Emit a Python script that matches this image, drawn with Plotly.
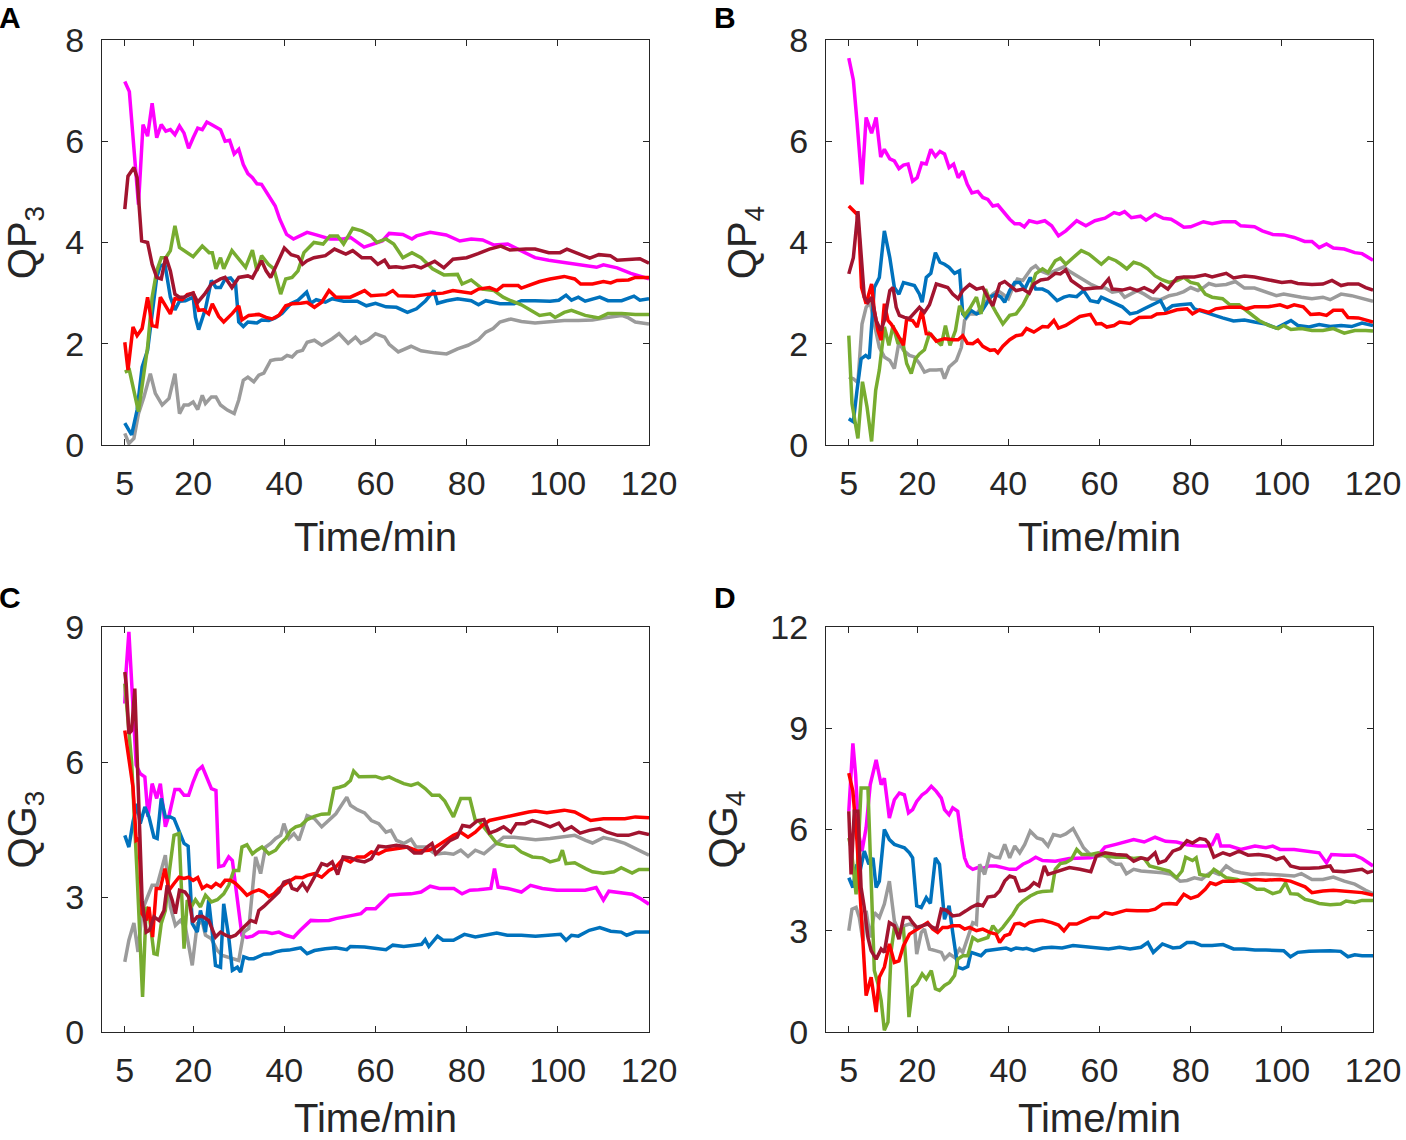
import plotly.graph_objects as go

# ---------------- data (time in min, value) ----------------
A_magenta = [(5,7.18),(6,6.98),(8,4.75),(9,6.33),(10,6.1),(11,6.75),(12,6.07),(13,6.33),(14,6.2),(15,6.23),(16,6.13),(17,6.3),(18,6.16),(19,5.86),(20,6.07),(21,6.26),(22,6.23),(23,6.38),(24,6.33),(26,6.23),(27,6.0),(28,6.02),(29,5.75),(30,5.84),(31,5.54),(32,5.36),(33,5.28),(34,5.16),(35,5.15),(36.5,4.95),(38,4.72),(39,4.46),(40.5,4.16),(42,4.07),(45,4.2),(47,4.15),(50,4.07),(53,4.07),(54.5,4.1),(57.5,3.91),(61.5,4.03),(63,4.18),(66,4.16),(68,4.07),(69,4.13),(72,4.2),(75.5,4.15),(78.5,4.03),(81,4.07),(83.5,4.05),(86,3.95),(89,3.97),(92,3.84),(95,3.7),(98,3.65),(101.5,3.6),(104.5,3.57),(108.5,3.51),(110,3.56),(113,3.5),(116,3.39),(120,3.28)]
A_maroon = [(5,4.66),(5.7,5.31),(7,5.48),(7.7,5.28),(8.7,4.03),(10,4.0),(11,3.57),(12,3.31),(13,3.28),(14,3.72),(15,3.44),(16,2.98),(17,2.92),(18,2.92),(20,3.0),(21,2.82),(22.5,2.98),(24,3.18),(26,3.28),(27,3.31),(28.5,3.11),(30,3.31),(32,3.34),(33,3.3),(35,3.64),(36,3.44),(37,3.31),(39,3.7),(40,3.89),(41.5,3.76),(43,3.72),(44,3.57),(45,3.64),(46.5,3.7),(49,3.74),(51,3.87),(53.5,3.77),(55,3.84),(57,3.7),(59,3.7),(60.5,3.57),(62,3.65),(63,3.51),(64.5,3.52),(66,3.5),(68.5,3.54),(70,3.5),(73,3.63),(75,3.5),(77,3.67),(80,3.7),(82.5,3.78),(85,3.87),(87.5,3.93),(89.5,3.85),(93,3.87),(95,3.87),(98,3.8),(100.5,3.8),(102,3.87),(104,3.8),(107,3.69),(109,3.76),(111.5,3.74),(113,3.65),(116,3.67),(118,3.68),(120,3.59)]
A_green = [(5,1.44),(6,1.48),(8,0.66),(10,1.93),(11,2.92),(12,3.44),(13,3.7),(14,3.7),(15,3.84),(16,4.33),(17,3.9),(18,3.84),(19,3.8),(20,3.72),(22,3.93),(23.5,3.8),(24.2,3.8),(25,3.48),(26,3.7),(26.7,3.48),(28.5,3.84),(30,3.67),(31.5,3.51),(33,3.85),(34,3.44),(35,3.74),(36.5,3.57),(37.7,3.48),(39.2,2.98),(40.3,3.28),(41.7,3.31),(43,3.44),(44.3,3.8),(46.5,4.0),(48.5,3.97),(50,4.13),(51.7,4.13),(53,3.97),(55,4.28),(57,4.23),(59,4.13),(60.3,4.0),(62.3,4.07),(64,3.97),(66,3.7),(68,3.8),(70,3.7),(72.5,3.48),(75,3.36),(78,3.37),(79,3.18),(81,3.26),(83.5,3.08),(86,3.05),(88,2.92),(89.7,2.85),(92,2.77),(96,2.56),(98.3,2.59),(99.4,2.52),(101.4,2.62),(103,2.66),(106,2.56),(109,2.51),(111,2.6),(114,2.6),(117,2.58),(120,2.58)]
A_blue = [(5,0.43),(6.5,0.2),(7.7,0.69),(8.8,1.54),(10,1.87),(11,2.59),(12,3.31),(12.8,3.54),(13.8,3.57),(15,2.92),(16,2.67),(17,2.84),(18.3,2.85),(20,2.92),(20.5,2.52),(21.2,2.28),(22.7,2.69),(24,3.25),(25,3.11),(26,3.11),(27,3.28),(28.2,3.3),(29.3,3.18),(30,2.43),(31,2.34),(32,2.43),(34,2.41),(35,2.47),(36.6,2.46),(38,2.51),(39.5,2.6),(41.4,2.79),(43,2.86),(44.9,3.02),(45.8,2.8),(47,2.87),(49,2.82),(50.5,2.89),(53,2.84),(56,2.84),(58,2.75),(60,2.8),(62.3,2.73),(64.6,2.72),(67,2.62),(69,2.69),(71,2.85),(72.8,3.05),(73.6,2.8),(75.6,2.85),(78,2.89),(81,2.85),(82.6,2.77),(84.2,2.85),(87.3,2.79),(90.4,2.79),(92,2.85),(95,2.85),(98.3,2.84),(100.2,2.86),(101.8,2.96),(103,2.86),(104.5,2.92),(106,2.84),(109.2,2.92),(111,2.85),(114,2.85),(116.7,2.94),(118,2.86),(120,2.89)]
A_red = [(5,2.03),(5.7,1.48),(6.8,2.33),(7.7,2.16),(8.8,2.3),(10,2.92),(11,2.36),(12,2.34),(12.8,2.92),(14,2.75),(15,2.59),(16,2.89),(17.6,2.87),(18.7,2.97),(20,3.0),(21.2,2.66),(22.3,2.67),(23.4,2.59),(24.2,2.79),(25.6,2.54),(26.7,2.43),(28.6,2.6),(30,2.75),(30.7,2.47),(32.2,2.56),(34.4,2.58),(36,2.52),(37.3,2.49),(38.8,2.56),(40.3,2.75),(41.7,2.79),(43.6,2.8),(45,2.82),(46.6,2.72),(48.2,2.82),(49.8,3.05),(51.3,2.92),(54.5,2.92),(57.6,3.05),(59,2.95),(62.3,2.97),(63.8,3.05),(65,2.95),(68.5,2.94),(71.7,2.98),(74.8,3.0),(77,3.05),(81,3.0),(82.6,3.08),(85,3.11),(86.6,3.05),(88,3.15),(91.3,3.15),(92,3.1),(93.6,3.15),(96,3.23),(98.3,3.28),(101.4,3.33),(103.7,3.28),(105,3.18),(107.6,3.18),(110,3.23),(111.6,3.2),(113,3.25),(115.5,3.26),(117,3.31),(120,3.31)]
A_gray = [(5,0.23),(5.9,0.03),(7,0.13),(8,0.62),(9.2,0.95),(10.6,1.41),(11.7,1.02),(13.2,0.79),(14.7,0.92),(16,1.41),(17,0.62),(18,0.79),(19,0.79),(20,0.85),(21,0.7),(22,0.98),(22.7,0.82),(24,0.95),(25,0.95),(26,0.79),(27.5,0.69),(29,0.62),(30,0.89),(31,1.28),(32,1.34),(33.3,1.25),(34.4,1.38),(35.5,1.42),(37,1.67),(38,1.69),(39.5,1.7),(40.6,1.77),(41.7,1.74),(42.8,1.84),(44,1.87),(45,2.03),(46.6,2.07),(48.2,1.97),(50.5,2.1),(52,2.2),(54,2.01),(55.6,2.13),(56.8,2.01),(58.4,2.08),(60,2.2),(62,2.13),(63,1.99),(65,1.84),(67.8,1.95),(70,1.86),(73,1.82),(75.6,1.8),(78,1.9),(80.3,1.97),(82.6,2.08),(84.2,2.23),(85.8,2.3),(87.3,2.43),(89.7,2.49),(92,2.44),(95,2.41),(98.3,2.43),(101.4,2.46),(104.5,2.46),(107.6,2.47),(110.8,2.52),(114,2.56),(115.5,2.51),(117,2.43),(120,2.39)]

B_magenta = [(5,7.64),(6,7.21),(6.8,6.39),(7.9,5.15),(8.8,6.47),(10,6.16),(11,6.47),(12,5.69),(12.8,5.84),(14,5.65),(15,5.61),(16,5.46),(17,5.53),(18,5.55),(19,5.21),(20,5.28),(21,5.57),(22,5.55),(23,5.84),(24,5.7),(25,5.8),(26,5.75),(27,5.48),(28,5.55),(29,5.28),(30,5.41),(31,5.15),(32,4.98),(33.3,5.01),(34.4,4.89),(35.5,4.85),(36.6,4.72),(37.7,4.74),(38.8,4.62),(40.3,4.46),(41.4,4.37),(42.5,4.37),(43.5,4.31),(44.6,4.43),(46.3,4.39),(48,4.43),(49.5,4.33),(51,4.13),(52.6,4.23),(55,4.43),(57,4.33),(59,4.43),(61.2,4.48),(63.2,4.59),(64.4,4.56),(65.5,4.61),(67,4.49),(69,4.52),(70.2,4.44),(72.2,4.56),(74,4.48),(75.7,4.46),(77,4.39),(78.5,4.3),(80,4.31),(82.8,4.41),(84.7,4.37),(87,4.41),(89.8,4.41),(91,4.33),(94,4.31),(95.7,4.23),(98,4.16),(100.4,4.15),(102.7,4.1),(105,4.02),(106.6,4.02),(108.2,3.9),(109.8,3.97),(111.3,3.89),(113.7,3.87),(116,3.8),(117.6,3.78),(120,3.65)]
B_red = [(5,4.72),(6,4.62),(6.8,4.56),(7.3,4.1),(7.8,3.11),(8.8,2.79),(10,3.18),(10.6,2.66),(11.4,2.26),(12.1,2.07),(12.8,2.79),(13.6,2.46),(14.3,2.39),(15.4,2.23),(16.1,2.1),(17,1.97),(17.7,2.49),(19,2.46),(20,2.33),(21,2.66),(22,2.2),(23,2.19),(24.2,2.05),(26,2.1),(28,2.08),(29,2.08),(30,2.16),(31,2.01),(32.2,2.0),(33.3,2.07),(34.4,1.95),(36,1.87),(37,1.88),(37.7,1.82),(38.8,1.95),(40.3,2.08),(41.7,2.16),(43,2.18),(44,2.3),(45.6,2.23),(47.5,2.34),(48.7,2.33),(50,2.46),(51,2.31),(52.6,2.36),(54.2,2.46),(55.7,2.54),(58,2.58),(59.3,2.39),(60.4,2.4),(61.6,2.33),(63.2,2.36),(64.4,2.43),(66.7,2.4),(68.7,2.52),(71.4,2.53),(72.6,2.59),(74.5,2.6),(77,2.67),(79.2,2.69),(80.4,2.59),(82,2.67),(84,2.62),(85.5,2.69),(88,2.72),(91,2.72),(92.2,2.69),(94,2.73),(97,2.73),(99.6,2.77),(101.2,2.72),(102.7,2.77),(104.7,2.73),(106.3,2.58),(108.2,2.59),(109.8,2.56),(111.3,2.66),(113.3,2.66),(114.5,2.52),(116.8,2.51),(118.4,2.47),(120,2.43)]
B_maroon = [(5,3.38),(6,3.7),(7,4.62),(7.7,3.84),(8.4,2.92),(9.2,2.82),(10,2.92),(11,2.46),(12,2.26),(12.8,2.46),(14,3.05),(14.7,3.11),(15.4,2.72),(16.1,2.56),(17.2,2.52),(18.3,2.5),(19.4,2.62),(20.5,2.72),(21.6,2.62),(22.7,2.77),(24.2,3.18),(25.6,3.15),(26.7,3.11),(27.8,2.98),(29,2.89),(30,3.05),(31.5,3.17),(33,3.08),(34.4,3.11),(35.5,2.92),(36.6,2.75),(38.1,3.18),(39.2,3.23),(40.6,3.13),(41.7,3.05),(43.2,3.08),(44.6,3.0),(45.6,3.18),(47.1,3.26),(48.7,3.28),(50.3,3.39),(51.4,3.38),(52.6,3.46),(53.8,3.25),(55,3.18),(56.5,3.08),(59,3.1),(60.4,3.11),(62,3.28),(62.8,3.08),(65,3.06),(66.7,3.1),(68.3,3.05),(69.8,3.11),(71.8,3.02),(73.4,3.18),(75,3.08),(77,3.3),(78.5,3.32),(80.8,3.32),(83.2,3.36),(84.7,3.32),(87.8,3.39),(89.4,3.3),(91.8,3.34),(94,3.32),(97.2,3.26),(100,3.21),(102,3.23),(103.5,3.19),(106.6,3.17),(109,3.18),(111,3.25),(113,3.15),(114.5,3.18),(116.8,3.18),(118.4,3.11),(120,3.06)]
B_blue = [(5,0.52),(6,0.46),(6.8,1.08),(7.7,1.7),(8.7,1.77),(9.5,1.71),(10.6,3.11),(11.7,3.31),(12.8,4.23),(14,3.7),(15,3.11),(16,2.98),(17,3.21),(18.3,3.18),(19.4,3.15),(20.5,2.98),(21.1,2.82),(22,3.31),(23,3.39),(24,3.8),(25,3.61),(26,3.57),(27,3.51),(28.2,3.39),(29.3,3.44),(30,2.59),(30.7,2.52),(31.8,2.66),(33,2.59),(34,2.62),(35,2.75),(36.2,2.93),(37.3,2.98),(38.4,2.92),(39.2,2.82),(40.3,3.05),(41.4,3.21),(42.5,3.21),(43.6,3.08),(44.8,3.31),(46,3.08),(47.5,3.08),(48.7,3.03),(50.7,2.85),(52.2,2.92),(53.4,2.95),(55,2.93),(56.5,3.05),(58,2.85),(59.7,2.82),(60.4,2.92),(62,2.85),(63.6,2.79),(65,2.73),(66.7,2.59),(68.3,2.62),(69.8,2.69),(72.2,2.8),(73.4,2.85),(74.5,2.66),(76,2.75),(77.7,2.77),(80,2.79),(80.8,2.69),(83.2,2.62),(84.7,2.56),(87,2.51),(89.4,2.45),(91.8,2.47),(94,2.43),(96.5,2.39),(98.8,2.31),(100.4,2.39),(102,2.46),(103.5,2.36),(106,2.33),(108.2,2.38),(110.6,2.34),(113,2.36),(115.3,2.34),(117.6,2.41),(120,2.36)]
B_gray = [(5,1.34),(6,1.31),(7,1.23),(7.9,2.39),(8.8,2.72),(9.7,2.82),(10.6,2.39),(11.7,1.93),(12.8,1.74),(14,1.67),(15,1.51),(16,2.03),(17,1.87),(18.3,1.77),(19.4,1.74),(20.5,1.61),(21.6,1.44),(22.7,1.48),(24.2,1.48),(25.3,1.49),(26,1.31),(27,1.54),(28.6,1.67),(29.7,1.93),(30.4,2.46),(31.5,2.59),(33,2.59),(34,2.72),(35,2.82),(36.6,2.98),(37.7,3.05),(38.8,2.98),(40,2.89),(41,3.11),(42,3.28),(43.2,3.25),(44.3,3.41),(45,3.48),(46,3.54),(47,3.44),(48.7,3.38),(50.3,3.45),(52.2,3.52),(53.4,3.43),(55,3.34),(56.5,3.26),(58,3.18),(59.7,3.11),(61.2,3.1),(62.8,3.02),(64.4,3.04),(65.5,2.92),(66.7,2.97),(68.3,3.05),(69.8,2.98),(71.4,2.89),(73.4,2.87),(75.3,2.95),(77,2.98),(78.5,3.03),(80,3.11),(81.6,3.05),(82.8,3.11),(84,3.19),(85.5,3.15),(87.8,3.17),(89.8,3.23),(91.8,3.1),(94,3.1),(96.5,3.02),(98.8,2.95),(100.4,2.98),(102,2.95),(104.3,2.92),(106.6,2.89),(109,2.92),(110.6,2.87),(113,2.98),(115.3,2.95),(117.6,2.89),(120,2.84)]
B_green = [(5,2.16),(5.7,0.82),(7,0.13),(8,1.25),(9,0.75),(10,0.07),(10.9,1.08),(11.7,1.48),(12.8,2.33),(13.8,1.97),(14.7,2.36),(15.8,2.0),(16.7,2.1),(17.7,1.61),(18.7,1.41),(19.6,1.7),(20.5,1.8),(21.6,1.88),(22.7,2.2),(24.2,2.07),(25.3,1.97),(26.2,2.36),(27.2,1.97),(28.4,2.26),(29.3,2.75),(30.4,2.56),(31.5,2.69),(33,2.92),(34,2.59),(35,3.08),(36.2,2.8),(37.3,2.62),(38.8,2.39),(40.3,2.56),(41.7,2.59),(43.2,2.77),(44.8,3.05),(46,3.38),(47.5,3.48),(48.7,3.41),(50.3,3.64),(51.4,3.69),(52.6,3.57),(54.2,3.7),(56,3.84),(57.7,3.77),(59,3.67),(60.4,3.57),(62,3.7),(63.6,3.64),(64.7,3.57),(66,3.48),(67.5,3.61),(69,3.57),(70.6,3.48),(72.2,3.34),(73.8,3.26),(75.3,3.21),(77,3.25),(78.5,3.31),(80,3.21),(81.6,3.18),(83.2,2.98),(84.7,2.92),(87,2.89),(88.6,2.77),(90.6,2.77),(92.6,2.62),(95,2.46),(97.2,2.36),(99.2,2.3),(100.4,2.36),(102,2.28),(104.3,2.3),(106.6,2.26),(109,2.26),(111.3,2.3),(113.7,2.21),(116,2.26),(118.4,2.26),(120,2.25)]

C_magenta = [(5,7.3),(5.3,8.04),(5.9,8.89),(6.8,7.37),(7.5,5.93),(8.4,5.74),(9.4,5.67),(10.1,4.78),(11,5.52),(12,5.19),(12.8,5.52),(13.9,4.56),(14.8,4.85),(16,5.39),(17,5.39),(18,5.26),(19,5.26),(20,5.56),(21,5.81),(22,5.9),(23,5.63),(24,5.41),(25,5.37),(25.6,3.67),(26.7,3.7),(27.8,3.89),(28.6,3.81),(29.3,3.3),(30,2.7),(30.7,2.15),(31.8,2.1),(33,2.13),(34.4,2.22),(36,2.22),(37.3,2.19),(38.8,2.22),(40.3,2.15),(42,2.1),(43.5,2.26),(45.8,2.48),(47.4,2.47),(49.8,2.48),(51.3,2.52),(54.5,2.59),(56.8,2.63),(58,2.74),(60,2.74),(61.5,2.89),(63,3.04),(65.4,3.06),(67.8,3.07),(70,3.11),(72,3.24),(74,3.19),(77.2,3.19),(79,3.07),(80.7,3.15),(82.6,3.16),(85.3,3.19),(86.1,3.63),(86.9,3.22),(89,3.19),(92,3.11),(94,3.26),(96.6,3.19),(99.8,3.15),(103,3.16),(106,3.15),(108.4,3.21),(110,2.93),(111.2,3.13),(114,3.09),(116.3,3.06),(118.2,2.96),(120,2.84)]
C_green = [(5,7.74),(6.5,6.0),(7.7,3.5),(8.9,0.78),(9.7,2.78),(10.4,2.56),(11.4,1.74),(12.1,1.72),(13,2.41),(13.9,2.7),(14.8,3.59),(15.8,4.37),(16.9,4.41),(18,1.85),(18.7,2.93),(19.6,2.78),(20.5,2.94),(21.6,2.78),(22.7,3.04),(24,2.89),(25.3,2.94),(26.7,3.07),(27.8,3.26),(28.9,3.59),(30,3.59),(30.7,4.11),(31.8,4.16),(33,3.96),(34,4.04),(35.1,4.11),(36.6,3.96),(38.1,4.04),(39.2,4.19),(40.3,4.3),(41.4,4.48),(42.5,4.56),(43.6,4.59),(45,4.72),(46.6,4.79),(48.2,4.84),(49.8,4.85),(50.9,5.41),(52.1,5.44),(53.3,5.48),(54.5,5.59),(55.2,5.8),(56.4,5.67),(58,5.68),(60,5.68),(61.5,5.63),(63,5.67),(64.6,5.59),(66.2,5.52),(67.8,5.48),(69.3,5.53),(70.9,5.41),(72.4,5.26),(74,5.26),(75.2,5.13),(77.1,4.78),(78.7,5.19),(80.7,5.19),(81.9,4.7),(82.6,4.7),(85,4.41),(86.6,4.19),(88.9,4.13),(90.4,4.13),(92,4.0),(94.4,3.89),(96.6,3.87),(98.3,3.78),(100.2,3.83),(101,4.04),(101.8,3.74),(103.7,3.76),(106.1,3.63),(107.6,3.56),(110,3.53),(112.3,3.56),(113.9,3.65),(116.3,3.53),(117.8,3.61),(120,3.61)]
C_gray = [(5,1.56),(5.9,2.04),(7,2.42),(7.9,1.78),(8.8,2.7),(9.9,2.96),(11,3.26),(12.1,3.26),(12.8,3.52),(13.9,3.93),(15,2.78),(16.1,2.37),(17.2,2.48),(18.3,2.33),(19.8,1.48),(20.9,2.41),(22,2.44),(22.7,2.15),(24,2.07),(25.3,1.81),(26.4,1.7),(27.5,1.67),(28.9,1.63),(30,1.59),(31.1,2.22),(32.2,2.3),(33.7,3.89),(34.8,3.52),(35.9,4.11),(37,4.19),(38.1,4.3),(39.2,4.37),(39.9,4.63),(41,4.3),(42.1,4.41),(43.2,4.26),(45,4.81),(46.6,4.74),(48.2,4.56),(49.8,4.7),(51.3,4.85),(53.7,5.22),(54.5,5.04),(56,4.94),(57.6,4.87),(59.1,4.7),(60.7,4.63),(62.3,4.44),(63.4,4.48),(64.6,4.26),(66.2,4.19),(67.8,4.28),(68.9,4.11),(70.9,4.11),(73.2,3.95),(75.2,3.98),(77.1,3.95),(78.7,4.04),(80.3,3.9),(81.9,4.04),(83.8,3.96),(85.8,4.13),(88.1,4.33),(90.4,4.33),(92.8,4.3),(95.1,4.27),(98.3,4.3),(101.4,4.33),(103.7,4.37),(106.1,4.26),(107.6,4.2),(110,4.32),(112.3,4.27),(114.7,4.19),(117,4.07),(120,3.93)]
C_red = [(5,6.7),(5.9,6.11),(6.8,5.44),(7.5,4.26),(8.1,4.3),(8.8,2.63),(9.7,2.48),(10.3,2.78),(11.1,2.11),(11.9,3.19),(12.8,3.19),(13.8,3.63),(14.7,3.15),(15.8,3.3),(16.9,3.44),(18,3.41),(19,3.44),(20,3.37),(21,3.43),(22,3.19),(23,3.26),(24,3.21),(25,3.3),(26,3.24),(27,3.37),(28.2,3.37),(29.3,3.3),(30.7,3.16),(31.8,3.04),(33,3.11),(34.4,3.16),(35.5,3.11),(36.6,3.01),(37.7,3.07),(38.8,3.19),(40.3,3.3),(41.4,3.37),(42.5,3.44),(44,3.43),(45,3.48),(46.6,3.52),(48.2,3.44),(49.8,3.59),(51.3,3.67),(52.9,3.85),(54.5,3.78),(56,3.89),(57.6,3.89),(59.1,4.0),(60.7,3.96),(62.3,4.04),(64.6,4.07),(67,4.11),(69.3,4.02),(71.7,4.04),(73.2,4.11),(74.8,4.22),(77.1,4.37),(78.7,4.44),(80.3,4.33),(81.9,4.44),(83.4,4.59),(85,4.7),(86.6,4.74),(88.9,4.78),(91.3,4.84),(93.6,4.89),(95.1,4.91),(97.6,4.87),(101.4,4.93),(103.7,4.89),(105.3,4.81),(107.2,4.7),(110,4.74),(112.3,4.74),(114.7,4.74),(117,4.78),(120,4.76)]
C_maroon = [(5,8.0),(5.3,7.74),(5.9,6.63),(6.5,6.7),(7.2,7.63),(7.9,5.52),(8.8,2.93),(9.7,2.22),(10.4,2.26),(11.4,2.56),(12.5,2.48),(13.6,2.7),(14.3,3.26),(15.4,2.93),(16.1,2.63),(17,3.15),(18.2,3.11),(19,3.0),(19.9,2.44),(20.9,2.56),(22,2.57),(23.4,2.48),(24.9,2.11),(26,2.22),(27.1,2.15),(28.2,2.11),(29.3,2.15),(30.4,2.26),(31.5,2.37),(32.6,2.48),(33.7,2.44),(34.4,2.7),(35.5,2.79),(36.6,2.89),(37.7,3.0),(38.8,3.11),(39.9,3.33),(41,3.37),(41.7,3.19),(42.8,3.15),(44,3.3),(45,3.15),(46.2,3.37),(47.4,3.59),(48.2,3.74),(49.4,3.7),(50.5,3.78),(51.7,3.5),(52.9,3.89),(54.5,3.87),(56,3.81),(57.6,3.78),(59.1,3.85),(60.7,4.13),(62.3,4.11),(64.6,4.15),(67,4.11),(68.5,3.98),(70.1,3.98),(71.3,4.11),(72.4,4.19),(73.2,3.96),(74.8,4.11),(76.4,4.26),(77.9,4.33),(79.1,4.59),(80.7,4.56),(82.3,4.69),(83.8,4.72),(85,4.42),(86.6,4.48),(88.1,4.56),(89.7,4.44),(90.9,4.63),(92.8,4.63),(94.4,4.7),(96.3,4.64),(98.3,4.56),(100.2,4.64),(101.4,4.48),(103,4.56),(104.9,4.42),(106.9,4.48),(109.2,4.52),(110.8,4.44),(113.1,4.37),(115.5,4.37),(117.8,4.44),(120,4.39)]
C_blue = [(5,4.37),(5.9,4.11),(6.8,4.67),(7.7,5.07),(8.4,4.63),(9.4,5.0),(10.3,4.78),(11.4,4.33),(12.1,4.3),(13,5.19),(13.9,4.78),(15,4.78),(15.8,4.74),(16.9,4.44),(18,4.19),(18.9,4.13),(19.8,2.41),(20.9,2.22),(21.6,2.7),(22.7,2.22),(23.4,2.93),(24.2,2.2),(24.9,1.48),(26,1.44),(26.7,2.85),(27.8,2.11),(28.6,1.37),(29.7,1.44),(30.4,1.33),(31.1,1.67),(32.2,1.63),(33.3,1.63),(34.4,1.67),(35.5,1.73),(37,1.74),(38.1,1.78),(39.5,1.81),(41,1.82),(42.5,1.85),(43.6,1.87),(45,1.74),(46.6,1.81),(49,1.85),(51.3,1.87),(53.7,1.83),(54.5,1.9),(57.6,1.89),(59.9,1.87),(62.3,1.83),(63.8,1.93),(66.2,1.9),(68.5,1.93),(70.1,1.95),(70.9,2.05),(71.7,1.9),(73.6,2.13),(74.8,2.04),(77.1,2.04),(79.5,2.17),(81.9,2.11),(84.2,2.15),(86.6,2.2),(88.9,2.15),(92,2.15),(95.1,2.13),(98.3,2.15),(100.6,2.17),(101.8,2.04),(103,2.15),(104.5,2.13),(106.9,2.26),(109.2,2.32),(111.6,2.24),(113.9,2.22),(115.1,2.15),(117,2.22),(120,2.22)]

D_magenta = [(5,6.54),(5.9,8.55),(6.5,7.62),(7.2,5.85),(7.9,5.36),(8.8,6.05),(9.7,7.33),(10.3,7.67),(11,8.06),(12.1,7.33),(12.8,7.52),(13.9,6.34),(15,6.88),(16.1,7.08),(17.2,7.03),(18.1,6.49),(19,6.59),(19.9,6.83),(21.1,7.03),(22,7.11),(23.1,7.28),(24.2,7.13),(25.3,6.93),(26,6.59),(27,6.44),(27.8,6.64),(28.9,6.54),(29.7,5.75),(30.4,5.16),(31.1,4.92),(32.2,4.82),(33.3,4.87),(34.4,4.85),(35.9,4.92),(37.3,4.92),(38.8,4.87),(40.3,4.82),(41.7,4.82),(43.2,4.97),(44.6,5.06),(46,5.18),(47.5,5.08),(50.3,5.06),(53.4,5.14),(56.5,5.14),(58.1,5.16),(59.7,5.24),(61.2,5.48),(63.6,5.56),(65.9,5.65),(67.5,5.7),(69.8,5.63),(72.2,5.77),(74.5,5.65),(76.9,5.63),(79.2,5.55),(81.6,5.51),(83.5,5.51),(84.7,5.55),(85.9,5.87),(86.6,5.51),(88.6,5.51),(91,5.41),(94.1,5.51),(96.5,5.46),(98,5.51),(99.6,5.41),(102.7,5.41),(105.9,5.36),(108.2,5.31),(109.8,5.01),(110.9,5.26),(113.7,5.24),(116,5.24),(117.6,5.14),(120,4.92)]
D_blue = [(5,4.57),(5.9,4.28),(6.8,4.97),(7.5,4.79),(8.4,5.36),(9.4,4.97),(10.3,5.16),(11,4.28),(11.7,4.47),(12.8,6.0),(13.9,5.7),(15,5.56),(16.1,5.51),(17.2,5.46),(18.3,5.31),(19,5.16),(19.9,3.74),(20.9,3.69),(22,3.98),(22.9,3.81),(24,5.16),(24.9,4.97),(26,3.34),(27,3.74),(27.8,2.95),(28.9,1.92),(30,1.87),(31.1,1.94),(31.8,2.36),(33,2.29),(34,2.26),(35.1,2.41),(36.6,2.43),(38.1,2.46),(39.5,2.49),(40.6,2.43),(41.7,2.49),(43.2,2.46),(44,2.48),(45.6,2.41),(47.5,2.49),(49.5,2.51),(51.8,2.49),(54.2,2.56),(56.5,2.53),(59.7,2.51),(62,2.46),(64.4,2.51),(66.7,2.46),(69.1,2.51),(70.6,2.65),(71.8,2.36),(73.8,2.61),(76.1,2.49),(77.7,2.51),(79.2,2.65),(80.8,2.65),(82.4,2.56),(84.7,2.56),(87.1,2.59),(89.4,2.46),(91.8,2.46),(94.1,2.43),(96.5,2.43),(98.8,2.43),(100.4,2.41),(101.9,2.23),(103.5,2.36),(106,2.39),(108.2,2.41),(110.6,2.41),(112.9,2.39),(114.5,2.23),(116,2.29),(117.6,2.26),(120,2.26)]
D_red = [(5,7.67),(5.9,7.13),(6.8,5.65),(7.5,3.88),(8.8,1.08),(9.9,1.62),(11,0.59),(11.7,1.62),(12.8,1.92),(13.9,2.61),(15,2.06),(16,2.11),(17,2.56),(18.3,2.9),(19.9,3.05),(21.2,3.15),(22.3,3.24),(23.4,3.05),(24.5,2.95),(25.6,3.1),(26.7,3.1),(27.8,3.15),(29.3,3.15),(30.4,3.05),(31.5,3.1),(33,3.0),(34.4,3.05),(35.9,2.95),(37.3,2.9),(38.1,2.65),(39.2,2.85),(40.3,2.9),(41.4,3.2),(42.5,3.22),(43.6,3.15),(44.6,3.24),(46,3.29),(47.5,3.31),(49.5,3.24),(51,3.17),(52.2,3.0),(53.4,3.2),(55,3.2),(56.5,3.29),(58.1,3.39),(59.7,3.39),(61.2,3.54),(62.8,3.49),(64.4,3.54),(65.9,3.61),(68.3,3.59),(70.6,3.59),(72.2,3.64),(73.8,3.79),(75.3,3.81),(76.9,3.79),(78.5,4.08),(80,3.96),(81.6,4.03),(83.2,4.23),(84.3,4.42),(85.5,4.37),(87.1,4.47),(89.4,4.47),(91.8,4.5),(94.1,4.52),(96.5,4.5),(99.6,4.52),(101.9,4.47),(103.5,4.38),(105.1,4.3),(106.6,4.13),(109,4.18),(111.3,4.2),(113.7,4.18),(116,4.16),(117.6,4.13),(120,4.06)]
D_green = [(5,5.75),(5.5,5.46),(6.6,4.08),(7.7,7.23),(9.2,7.23),(9.9,4.38),(10.6,1.82),(11.4,1.43),(12.1,0.93),(12.8,0.05),(13.6,0.29),(14.3,2.41),(15,3.1),(16,3.0),(17,3.05),(17.6,1.9),(18.2,0.44),(19,1.33),(19.9,1.43),(21.1,1.72),(22,1.57),(23.1,1.82),(24,1.28),(24.9,1.23),(26,1.38),(27.1,1.47),(28.2,1.67),(28.9,2.16),(30,2.26),(31.1,2.26),(32.2,2.8),(33.3,2.7),(34.4,2.75),(35.5,2.8),(36.6,3.15),(37.7,2.95),(38.8,3.1),(39.9,3.29),(41,3.49),(42.1,3.74),(43.2,3.88),(44.8,4.03),(46.3,4.13),(47.5,4.16),(49.5,4.18),(50.3,4.82),(51.4,4.99),(52.6,5.02),(53.8,5.11),(55,5.41),(56.1,5.26),(58.1,5.26),(59.7,5.31),(61.2,5.21),(63.6,5.18),(65.9,5.18),(67.5,5.14),(68.7,5.16),(69.8,5.14),(71,4.92),(72.9,4.85),(75.3,4.77),(76.9,4.57),(78.1,4.77),(78.9,5.18),(80.4,5.08),(81.2,5.16),(82,4.67),(83.9,4.62),(85.1,4.82),(86.2,4.72),(87.8,4.57),(90.2,4.52),(92.6,4.38),(94.5,4.23),(96.1,4.23),(98,4.1),(99.6,4.16),(100.8,4.42),(101.9,4.1),(103.5,4.08),(105.1,3.93),(106.6,3.88),(108.2,3.81),(110.6,3.77),(112.9,3.79),(114.1,3.88),(116,3.84),(117.6,3.9),(120,3.9)]
D_gray = [(5,3.0),(5.7,3.64),(6.6,3.69),(7.3,3.39),(8.1,2.7),(8.8,3.59),(9.7,2.8),(10.6,3.54),(11.7,3.39),(12.8,3.79),(13.9,4.47),(15,3.29),(16.1,2.95),(17.2,3.15),(18.3,3.2),(19.4,3.15),(19.9,2.31),(20.9,2.95),(21.6,3.05),(22.7,2.46),(24,2.41),(25.3,2.36),(26,2.16),(27.1,2.31),(28.2,2.21),(29.3,2.46),(30,2.36),(31.1,2.8),(32.2,3.24),(33,3.19),(33.7,4.97),(34.8,4.67),(35.9,5.26),(37,5.18),(38.1,5.16),(39.2,5.56),(40.3,5.16),(41.4,5.51),(42.5,5.31),(43.6,5.56),(44.8,5.95),(46.3,5.75),(47.5,5.7),(48.7,5.51),(49.9,5.85),(51.4,5.8),(52.6,5.87),(54.2,6.03),(55.4,5.75),(56.5,5.46),(58.1,5.24),(59.7,5.21),(61.2,5.24),(62.4,5.06),(63.6,4.97),(64.7,4.97),(65.9,4.69),(67.5,4.82),(69.1,4.77),(71.4,4.75),(73.8,4.72),(75.7,4.67),(77.7,4.47),(79.2,4.49),(80.8,4.57),(82.4,4.52),(83.5,4.65),(84.7,4.75),(86.2,4.67),(87.8,4.92),(89.4,4.77),(91,4.72),(93.3,4.67),(95.7,4.69),(98,4.67),(100.4,4.65),(102.7,4.62),(104.3,4.69),(106.6,4.52),(109,4.52),(111.3,4.59),(113.7,4.47),(116,4.38),(118.4,4.2),(120,4.1)]
D_maroon = [(5,6.54),(5.5,4.67),(6.2,6.54),(7,6.54),(7.7,4.28),(8.4,3.69),(9.2,2.8),(9.9,2.41),(11,2.16),(12.1,2.46),(12.8,2.36),(13.9,3.24),(15,3.15),(16,2.75),(17,3.39),(18.2,3.39),(19,3.24),(19.9,3.1),(21.2,3.15),(22.3,3.2),(23.4,3.1),(24.3,3.05),(25.3,3.64),(26.4,3.61),(27.8,3.44),(29.3,3.47),(30.7,3.59),(31.8,3.69),(33.3,3.79),(34.4,3.74),(35.5,4.0),(37,4.03),(38.1,4.18),(39.2,4.47),(40.3,4.62),(41.4,4.57),(42.5,4.18),(43.6,4.2),(44.6,4.28),(45.6,4.42),(46.7,4.33),(47.9,4.92),(48.7,4.67),(49.9,4.72),(51,4.77),(51.8,4.82),(53.4,4.87),(55.7,4.82),(58.1,4.75),(59.3,5.21),(61.2,5.31),(63.6,5.26),(65.9,5.24),(67.5,5.06),(69.1,5.16),(70.6,5.11),(72.2,5.31),(73,5.01),(74.5,5.08),(76.1,5.36),(77.7,5.44),(79.2,5.67),(80.4,5.6),(82,5.73),(83.2,5.7),(83.9,5.6),(85.1,5.18),(87.1,5.31),(88.6,5.24),(90.6,5.36),(92.6,5.24),(94.9,5.26),(97.2,5.21),(98.8,5.11),(100.4,5.18),(101.9,4.92),(103.9,4.85),(106,4.85),(108.2,4.87),(110.6,4.92),(111.3,4.77),(113.7,4.75),(116,4.79),(117.6,4.82),(118.8,4.72),(120,4.77)]

x_ticks = [5, 20, 40, 60, 80, 100, 120]
x_title = "Time/min"
panel_letters = ["A", "B", "C", "D"]
y_titles = ["QP<sub>3</sub>", "QP<sub>4</sub>", "QG<sub>3</sub>", "QG<sub>4</sub>"]
y_ranges = [[0, 8], [0, 8], [0, 9], [0, 12]]
y_ticks = [[0, 2, 4, 6, 8], [0, 2, 4, 6, 8], [0, 3, 6, 9], [0, 3, 6, 9, 12]]

COLORS = {"blue": "#0072BD", "green": "#77AC30", "gray": "#9B9B9B",
          "red": "#FF0000", "magenta": "#FF00FF", "maroon": "#A2142F"}
ORDER = ["magenta", "gray", "blue", "green", "red", "maroon"]
panels = [
    {"blue": A_blue, "green": A_green, "gray": A_gray, "red": A_red, "magenta": A_magenta, "maroon": A_maroon},
    {"blue": B_blue, "green": B_green, "gray": B_gray, "red": B_red, "magenta": B_magenta, "maroon": B_maroon},
    {"blue": C_blue, "green": C_green, "gray": C_gray, "red": C_red, "magenta": C_magenta, "maroon": C_maroon},
    {"blue": D_blue, "green": D_green, "gray": D_gray, "red": D_red, "magenta": D_magenta, "maroon": D_maroon},
]

# ---------------- layout geometry (pixels) ----------------
W, H = 1406, 1140
boxes = [(102, 649, 40, 445), (826, 1373, 40, 445), (102, 649, 627, 1032), (826, 1373, 627, 1032)]
letter_pos = [(-2, 0), (713, 0), (-2, 580), (713, 580)]

FONT = "Arial, 'Liberation Sans', Helvetica, sans-serif"
TXT = "#262626"

fig = go.Figure()
layout = dict(width=W, height=H, margin=dict(l=0, r=0, t=0, b=0, pad=0, autoexpand=False),
              paper_bgcolor="white", plot_bgcolor="white", showlegend=False,
              font=dict(family=FONT, color=TXT))
annotations = []
for i, (series, (x0, x1, y0, y1)) in enumerate(zip(panels, boxes)):
    sfx = "" if i == 0 else str(i + 1)
    for name in ORDER:
        pts = series[name]
        fig.add_trace(go.Scatter(x=[p[0] for p in pts], y=[p[1] for p in pts], mode="lines",
                                 line=dict(color=COLORS[name], width=3.5),
                                 xaxis="x" + sfx, yaxis="y" + sfx, hoverinfo="skip"))
    common = dict(showline=True, linecolor=TXT, linewidth=1, mirror="ticks", ticks="inside",
                  ticklen=6, tickwidth=1, tickcolor=TXT, showgrid=False, zeroline=False,
                  automargin=False, tickfont=dict(size=34, color=TXT, family=FONT))
    layout["xaxis" + sfx] = dict(common, domain=[x0 / W, x1 / W], range=[0, 120],
                                 tickvals=x_ticks, anchor="y" + sfx,
                                 ticklabelstandoff=8,
                                 title=dict(text=x_title, font=dict(size=40, color=TXT, family=FONT), standoff=22))
    layout["yaxis" + sfx] = dict(common, domain=[1 - y1 / H, 1 - y0 / H], range=y_ranges[i],
                                 tickvals=y_ticks[i], anchor="x" + sfx,
                                 ticklabelstandoff=10,
                                 title=dict(text=y_titles[i], font=dict(size=40, color=TXT, family=FONT), standoff=20))
    lx, ly = letter_pos[i]
    annotations.append(dict(text="<b>" + panel_letters[i] + "</b>", x=lx / W, y=1 - ly / H,
                            xref="paper", yref="paper", xanchor="left", yanchor="top",
                            borderpad=0, showarrow=False,
                            font=dict(size=30, color="black", family=FONT)))
layout["annotations"] = annotations
fig.update_layout(**layout)
fig.write_html("out.html", config={"displayModeBar": False},
               post_script="document.body.style.margin='0px';document.body.style.overflow='hidden';")
